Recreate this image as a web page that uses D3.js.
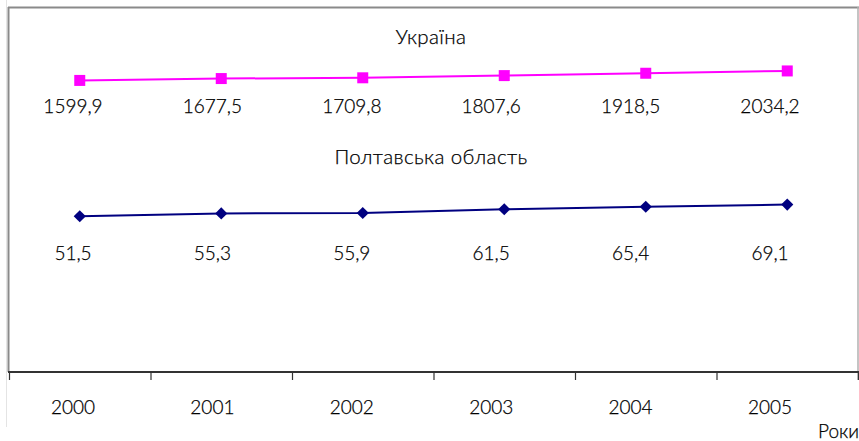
<!DOCTYPE html>
<html>
<head>
<meta charset="utf-8">
<script src="https://cdn.jsdelivr.net/npm/d3@7"></script>
<style>
  html, body { margin: 0; padding: 0; background: #ffffff; }
  svg { display: block; }
  text { font-family: Lato, "DejaVu Sans", sans-serif; font-weight: 300; fill: #000000; stroke: #000000; stroke-width: 0.25px; }
</style>
</head>
<body>
<svg id="chart" width="859" height="441"></svg>
<script>
// ---- data ----
const years = ["2000", "2001", "2002", "2003", "2004", "2005"];
const ukraineName = "Україна";
const ukraineValues = [1599.9, 1677.5, 1709.8, 1807.6, 1918.5, 2034.2];
const ukraineLabels = ["1599,9", "1677,5", "1709,8", "1807,6", "1918,5", "2034,2"];
const poltavaName = "Полтавська область";
const poltavaValues = [51.5, 55.3, 55.9, 61.5, 65.4, 69.1];
const poltavaLabels = ["51,5", "55,3", "55,9", "61,5", "65,4", "69,1"];
const xAxisTitle = "Роки";

// ---- layout ----
const plot = { left: 9, right: 858, top: 8, bottom: 372 };
const svg = d3.select("#chart");

// x: band scale over years (ticks on band edges)
const x = d3.scaleBand().domain(years).range([plot.left, plot.right]).paddingInner(0).paddingOuter(0);
const xEdge = d3.scaleLinear().domain([0, years.length]).range([plot.left, plot.right]);
// label placement scale (text rows sit on a slightly narrower grid)
const xLab = d3.scalePoint().domain(years).range([73, 770]);
// y: hidden logarithmic value axis
const y = d3.scaleLog().domain([1, 10000]).range([plot.bottom, plot.top]);

// outer faint frame line
svg.append("line").attr("x1", 6.5).attr("x2", 6.5).attr("y1", 0).attr("y2", 427)
  .attr("stroke", "#e4e4e4").attr("stroke-width", 1);

// plot frame
svg.append("line").attr("x1", plot.left - 1).attr("x2", plot.right + 1).attr("y1", plot.top - 0.5).attr("y2", plot.top - 0.5)
  .attr("stroke", "#8a8a8a").attr("stroke-width", 2);
svg.append("line").attr("x1", plot.left - 0.5).attr("x2", plot.left - 0.5).attr("y1", plot.top - 1).attr("y2", plot.bottom)
  .attr("stroke", "#8a8a8a").attr("stroke-width", 2);
svg.append("line").attr("x1", plot.right).attr("x2", plot.right).attr("y1", plot.top - 1).attr("y2", plot.bottom + 8)
  .attr("stroke", "#b0b0b0").attr("stroke-width", 1.5);

// x axis (domain line + ticks at band edges)
const xAxis = d3.axisBottom(xEdge)
  .tickValues(d3.range(0, years.length + 1))
  .tickFormat("")
  .tickSizeInner(8)
  .tickSizeOuter(0);
const gx = svg.append("g").attr("transform", `translate(0,${plot.bottom})`).call(xAxis);
gx.select(".domain").attr("stroke", "#333").attr("stroke-width", 2).attr("d", `M${plot.left - 1},0H${plot.right + 1}`);
gx.selectAll(".tick line").attr("stroke", "#333").attr("stroke-width", 1.2);

// year labels
svg.append("g").selectAll("text").data(years).join("text")
  .attr("x", d => xLab(d)).attr("y", 414)
  .attr("text-anchor", "middle").attr("font-size", 19)
  .text(d => d);

svg.append("text").attr("x", 859).attr("y", 438).attr("text-anchor", "end")
  .attr("font-size", 19).text(xAxisTitle);

// series
function drawSeries(values, labels, name, color, isDiamond, nameY, labelY) {
  const pts = years.map((yr, i) => ({ yr, v: values[i], lab: labels[i] }));
  const cx = d => x(d.yr) + x.bandwidth() / 2;
  const line = d3.line().x(cx).y(d => y(d.v));
  svg.append("path").datum(pts).attr("d", line)
    .attr("fill", "none").attr("stroke", color).attr("stroke-width", 2);
  const sym = d3.symbol().type(d3.symbolSquare).size(isDiamond ? 74 : 121);
  svg.append("g").selectAll("path").data(pts).join("path")
    .attr("d", sym)
    .attr("transform", d => `translate(${cx(d)},${y(d.v)})` + (isDiamond ? " rotate(45)" : ""))
    .attr("fill", color);
  svg.append("g").selectAll("text").data(pts).join("text")
    .attr("x", d => xLab(d.yr)).attr("y", labelY)
    .attr("text-anchor", "middle").attr("font-size", 19)
    .text(d => d.lab);
  svg.append("text").attr("x", 431).attr("y", nameY).attr("text-anchor", "middle")
    .attr("font-size", 20.5).attr("letter-spacing", 0.4).text(name);
}
drawSeries(ukraineValues, ukraineLabels, ukraineName, "#ff00ff", false, 44, 113);
drawSeries(poltavaValues, poltavaLabels, poltavaName, "#000080", true, 164, 260);
</script>
</body>
</html>
